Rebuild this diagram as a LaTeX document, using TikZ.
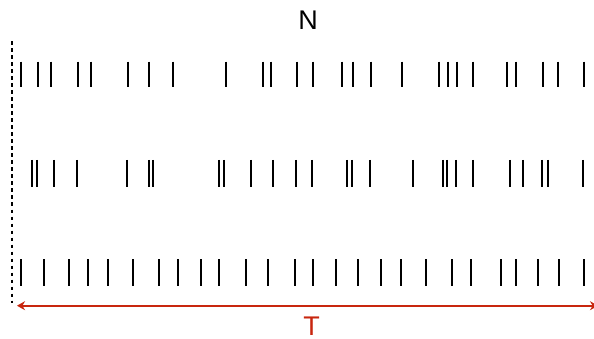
\documentclass[tikz,border=0pt]{standalone}
\usepackage{fontspec}
\setmainfont{Liberation Sans}
\usetikzlibrary{arrows.meta}
\definecolor{spanred}{RGB}{200,38,14}
\begin{document}
\begin{tikzpicture}[x=1pt,y=-1pt,
  spike/.style={line width=1.8pt, black},
  guide/.style={line width=2pt, black, dash pattern=on 3.5pt off 3.5pt},
  span/.style={spanred, line width=2.2pt,
    {Stealth[length=8pt,width=9pt]}-{Stealth[length=8pt,width=9pt]}},
  lbl/.style={font=\fontsize{27}{27}\selectfont, inner sep=0pt, anchor=base}]
\useasboundingbox (0,0) rectangle (594,339);

% number of trains
\node[lbl] (n) at (308,30) {N};

% start-of-window guide
\coordinate (g0) at (12.3,41.5);
\coordinate (g1) at (12.3,303);
\draw[guide] (g0) -- (g1);

% spike train 1
\foreach \x in {21,37.7,50.7,77.7,90.7,127.7,149.3,173.3,226,262.7,270.7,296.7,
  312.7,341.7,353.3,371,402,439,448.3,457.3,473,507.3,516,543.3,557.7,584}
  \draw[spike] (\x,61.7) -- (\x,87.3);

% spike train 2
\foreach \x in {32.3,37,54,77.3,127,149,153.3,219,224.3,251,273.3,296,312.3,
  347.3,352.3,370,413.3,443,447.3,455.7,472.7,510,523.3,542.3,547.7,583.3}
  \draw[spike] (\x,160) -- (\x,187.3);

% spike train 3
\foreach \x in {21,44,69,88.3,108.3,133.3,159,178.3,200.7,219,246,268.3,295,
  313.3,336,358.3,380.7,401,425.7,452.3,471,500.7,516,538.3,559.3,584}
  \draw[spike] (\x,259.3) -- (\x,286);

% duration of the window
\coordinate (t0) at (17,305.7);
\coordinate (t1) at (598,305.7);
\draw[span] (t0) -- (t1);
\node[lbl, text=spanred] (t) at (311.7,335.5) {T};
\end{tikzpicture}
\end{document}
